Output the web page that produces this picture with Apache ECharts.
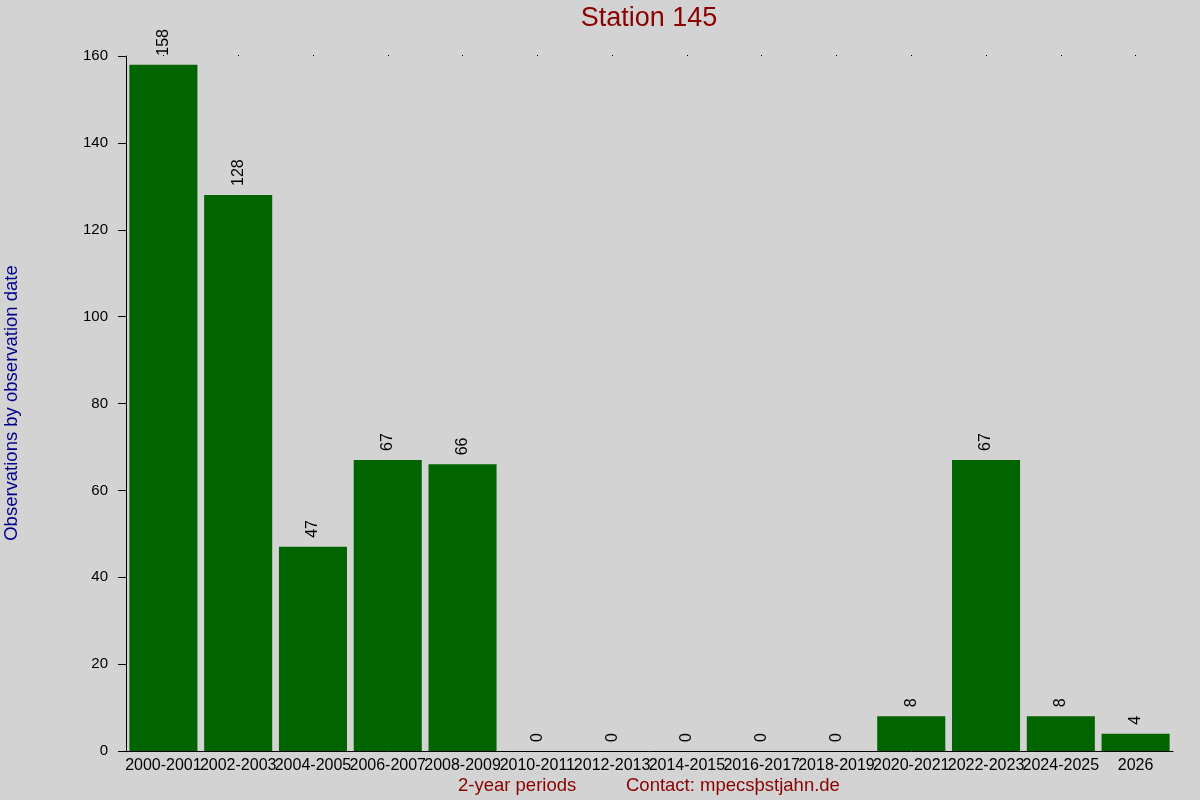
<!DOCTYPE html>
<html>
<head>
<meta charset="utf-8">
<script src="https://cdn.jsdelivr.net/npm/echarts@6/dist/echarts.min.js"></script>
<style>
html,body{margin:0;padding:0;background:#d3d3d3;}
#chart{width:1200px;height:800px;}
</style>
</head>
<body>
<div id="chart"></div>
<script>
var categories = ["2000-2001","2002-2003","2004-2005","2006-2007","2008-2009","2010-2011","2012-2013","2014-2015","2016-2017","2018-2019","2020-2021","2022-2023","2024-2025","2026"];
var values = [158,128,47,67,66,0,0,0,0,0,8,67,8,4];
var yTicks = {min:0, max:160, interval:20};
var titleText = "Station 145";
var yName = "Observations by observation date";
var xName = "2-year periods";
var contact = "Contact: mpecsþstjahn.de";

var FONT = "Liberation Sans, Arial, sans-serif";
var chart = echarts.init(document.getElementById('chart'));
chart.setOption({
  backgroundColor: '#d3d3d3',
  animation: false,
  textStyle: {fontFamily: FONT},
  graphic: [
    {type:'text', x: 649, y: 5, style:{text: titleText, fill:'#8b0000', font:'27px ' + FONT, align:'center', verticalAlign:'top'}},
    {type:'text', x: 458, y: 776, style:{text: xName, fill:'#8b0000', font:'18.5px ' + FONT, verticalAlign:'top'}},
    {type:'text', x: 626, y: 776, style:{text: contact, fill:'#8b0000', font:'18.5px ' + FONT, verticalAlign:'top'}},
    {type:'text', x: 2, y: 403, rotation: Math.PI/2, style:{text: yName, fill:'#00008b', font:'18.5px ' + FONT, align:'center', verticalAlign:'top'}}
  ],
  grid: {left: 126, right: 27, top: 56, bottom: 49, containLabel: false},
  xAxis: [{
    type: 'category', data: categories,
    axisLine: {show: true, lineStyle: {color: '#000', width: 1}},
    axisTick: {show: false},
    axisLabel: {interval: 0, color: '#000', fontSize: 16, margin: 7, fontFamily: FONT},
    splitLine: {show: false}
  },{
    type: 'category', data: categories, position: 'top',
    axisLine: {show: false},
    axisTick: {show: true, alignWithLabel: true, interval: 0, length: 1, lineStyle: {color: '#000'}},
    axisLabel: {show: false}
  }],
  yAxis: {
    type: 'value', min: yTicks.min, max: yTicks.max, interval: yTicks.interval,
    axisLine: {show: true, lineStyle: {color: '#000', width: 1}},
    axisTick: {show: true, length: 8, lineStyle: {color: '#000'}},
    axisLabel: {color: '#000', fontSize: 15, margin: 18, fontFamily: FONT},
    splitLine: {show: false}
  },
  series: [{
    type: 'bar', data: values, barCategoryGap: '9%',
    itemStyle: {color: '#006400'},
    label: {show: true, position: 'top', rotate: 90, distance: 9, color: '#000', fontSize: 16, fontFamily: FONT, align: 'left', verticalAlign: 'middle'}
  }]
});
</script>
</body>
</html>
